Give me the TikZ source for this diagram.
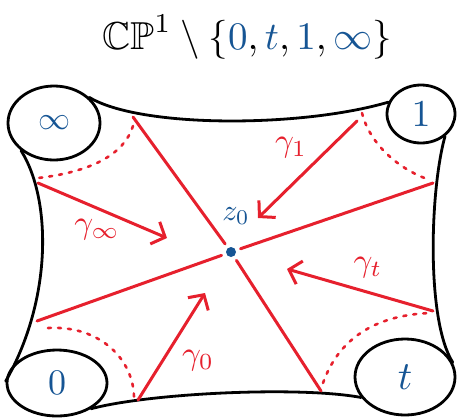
\documentclass[tikz,border=0pt]{standalone}
\usepackage{amssymb}
\usepackage{graphicx}
\usetikzlibrary{shapes.geometric,arrows.meta}
\definecolor{pred}{RGB}{230,32,45}
\definecolor{pblue}{RGB}{22,85,148}
\begin{document}
\begin{tikzpicture}[x=1pt,y=-1pt,
  outline/.style={line width=2.8pt, line cap=round, line join=round},
  corner/.style={ellipse, draw, line width=2.8pt, inner sep=0pt, text=pblue},
  redline/.style={pred, line width=3pt, line cap=round},
  redarrow/.style={redline, -{Straight Barb[length=11pt,width=24pt,line width=3pt]}},
  arcdots/.style={pred, line width=2.6pt, line cap=round, dash pattern=on 3pt off 7pt},
  glabel/.style={text=pred, inner sep=0pt}
]
\useasboundingbox (0,0) rectangle (457,418);

% title
\node (tit) at (247,37)
  {\scalebox{3.9}{$\mathbb{CP}^1\setminus\{{\color{pblue}0},{\color{pblue}t},{\color{pblue}1},{\color{pblue}\infty}\}$}};

% punctures
\node[corner, minimum width=92pt, minimum height=74pt] (inf) at (54,123) {\scalebox{3.2}{$\infty$}};
\node[corner, minimum width=68pt, minimum height=58pt] (one) at (421,114) {\scalebox{3.8}{$1$}};
\node[corner, minimum width=100pt, minimum height=66pt] (zero) at (57,383) {\scalebox{3.6}{$0$}};
\node[corner, minimum width=100pt, minimum height=76pt] (tt) at (405,377) {\scalebox{4}{$t$}};

% outline
\draw[outline] (inf.36) .. controls (140,128) and (300,128) .. (one.160);
\draw[outline] (inf.220) .. controls (52,200) and (52,300) .. (zero.178);
\draw[outline] (zero.-37) .. controls (150,393) and (300,386) .. (tt.205);
\draw[outline] (one.-43) .. controls (430,190) and (426,320) .. (tt.17);

% base point
\node[circle, fill=pblue, minimum size=10pt, inner sep=0pt, outer sep=5pt] (z0) at (231,252) {};
\node[text=pblue, inner sep=0pt] (lz) at (236,216) {\scalebox{3}{$z_0$}};

% cut lines
\coordinate (a1) at (133,117);
\coordinate (a2) at (321,391);
\coordinate (b1) at (433,183);
\coordinate (b2) at (37,321);
\draw[redline] (a1) -- (z0);
\draw[redline] (z0) -- (a2);
\draw[redline] (b1) -- (z0);
\draw[redline] (z0) -- (b2);

% dotted arcs
\draw[arcdots] (133,126) .. controls (124,155) and (90,172) .. (38,178);
\draw[arcdots] (362,113) .. controls (370,145) and (400,170) .. (430,180);
\draw[arcdots] (48,328) .. controls (100,325) and (135,360) .. (134,400);
\draw[arcdots] (323,383) .. controls (340,335) and (380,315) .. (430,313);

% loops
\coordinate (ginfs) at (38,183);
\coordinate (ginfe) at (167,238);
\coordinate (g1s) at (357,121);
\coordinate (g1e) at (258,218);
\coordinate (gts) at (433,311);
\coordinate (gte) at (287,269);
\coordinate (g0s) at (138,400);
\coordinate (g0e) at (205,293);
\draw[redarrow] (ginfs) -- (ginfe);
\draw[redarrow] (g1s) -- (g1e);
\draw[redarrow] (gts) -- (gte);
\draw[redarrow] (g0s) -- (g0e);

\node[glabel] (linf) at (97,230) {\scalebox{3.3}{$\gamma_\infty$}};
\node[glabel] (l1) at (291,148) {\scalebox{3.3}{$\gamma_1$}};
\node[glabel] (lt) at (368,268) {\scalebox{3.3}{$\gamma_t$}};
\node[glabel] (l0) at (198,361) {\scalebox{3.3}{$\gamma_0$}};
\end{tikzpicture}
\end{document}
